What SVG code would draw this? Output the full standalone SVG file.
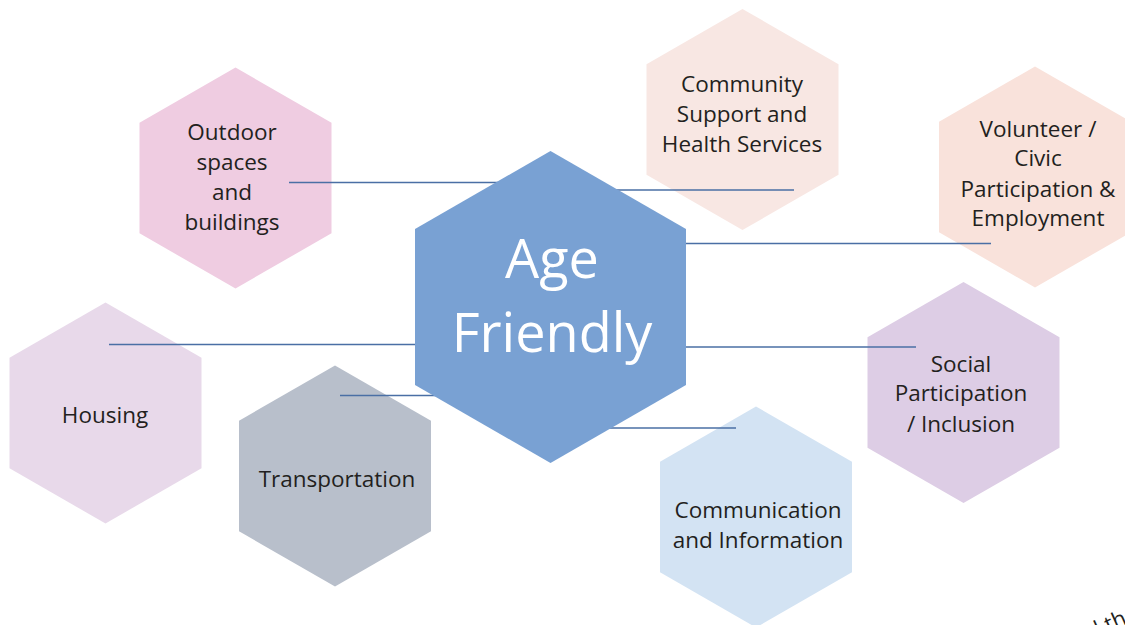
<svg xmlns="http://www.w3.org/2000/svg" width="1125" height="625" viewBox="0 0 1125 625">
<style>
.lbl{font-family:"Open Sans","Liberation Sans",sans-serif;font-size:22.5px;fill:#231f20;text-anchor:middle}
.big{font-family:"Open Sans","Liberation Sans",sans-serif;font-size:54px;fill:#ffffff;text-anchor:middle}
.conn line{stroke:#4a6fa5;stroke-width:1.3}
</style>
<defs>
<polygon id="hex" points="0,-110.5 96,-55.25 96,55.25 0,110.5 -96,55.25 -96,-55.25"/>
</defs>
<rect width="1125" height="625" fill="#ffffff"/>
<g id="outdoor"><use href="#hex" x="235.5" y="178" fill="#efcce1"/>
<text class="lbl"><tspan x="232" y="140">Outdoor</tspan><tspan x="232" y="170">spaces</tspan><tspan x="232" y="200">and</tspan><tspan x="232" y="230">buildings</tspan></text></g>
<g id="housing"><use href="#hex" x="105.5" y="413" fill="#e8d9ea"/>
<text class="lbl" x="105" y="423">Housing</text></g>
<g id="transportation"><use href="#hex" x="335" y="476" fill="#b8bfcb"/>
<text class="lbl" x="337" y="487">Transportation</text></g>
<g id="community"><use href="#hex" x="742.5" y="119.5" fill="#f8e7e3"/>
<text class="lbl"><tspan x="742" y="92">Community</tspan><tspan x="742" y="122">Support and</tspan><tspan x="742" y="152">Health Services</tspan></text></g>
<g id="volunteer"><use href="#hex" x="1035" y="177" fill="#f9e2db"/>
<text class="lbl"><tspan x="1038" y="137">Volunteer /</tspan><tspan x="1038" y="166">Civic</tspan><tspan x="1038" y="197">Participation &amp;</tspan><tspan x="1038" y="226">Employment</tspan></text></g>
<g id="social"><use href="#hex" x="963.5" y="392.5" fill="#ddcde5"/>
<text class="lbl"><tspan x="961" y="372">Social</tspan><tspan x="961" y="401">Participation</tspan><tspan x="961" y="432">/ Inclusion</tspan></text></g>
<g id="communication"><use href="#hex" x="756" y="517" fill="#d3e3f3"/>
<text class="lbl"><tspan x="758" y="518">Communication</tspan><tspan x="758" y="548">and Information</tspan></text></g>
<g class="conn" id="connectors">
<line x1="289" y1="182.5" x2="550" y2="182.5"/>
<line x1="560" y1="190" x2="794" y2="190"/>
<line x1="686" y1="243.5" x2="991" y2="243.5"/>
<line x1="109" y1="344.5" x2="550" y2="344.5"/>
<line x1="340" y1="395.5" x2="550" y2="395.5"/>
<line x1="600" y1="347" x2="916" y2="347"/>
<line x1="560" y1="428" x2="736" y2="428"/>
</g>
<g id="center">
<polygon points="550.5,151 686,229 686,385 550.5,463 415,385 415,229" fill="#79a1d3"/>
<text class="big"><tspan x="552" y="278">Age</tspan><tspan x="552" y="352">Friendly</tspan></text>
</g>
<text x="1091" y="640" transform="rotate(-24 1091 640)" style="font-family:'Open Sans','Liberation Sans',sans-serif;font-size:22px;fill:#231f20">d th</text>
</svg>
